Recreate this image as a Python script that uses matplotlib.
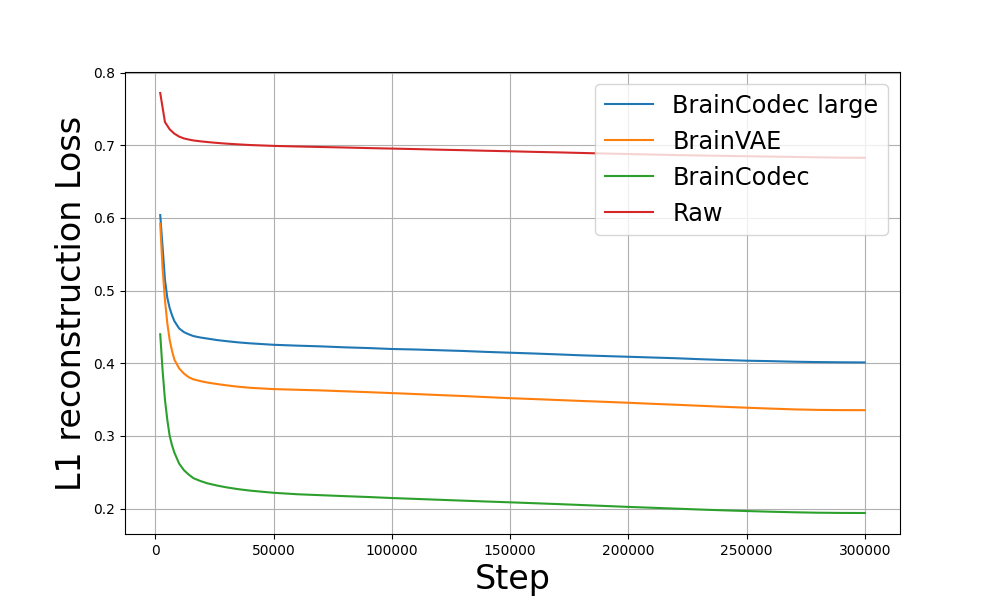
import matplotlib
matplotlib.use("Agg")
import matplotlib.pyplot as plt

steps = [2000, 3000, 4000, 5000, 6000, 7000, 8000, 10000, 12000, 14000, 16000,
         19000, 22000, 26000, 30000, 35000, 40000, 50000, 60000, 70000, 80000,
         90000, 100000, 110000, 120000, 130000, 140000, 150000, 160000, 170000,
         180000, 190000, 200000, 210000, 220000, 230000, 240000, 250000, 260000,
         270000, 280000, 290000, 300000]

braincodec_large = [0.604, 0.560, 0.515, 0.490, 0.476, 0.466, 0.458, 0.448, 0.443,
                    0.440, 0.4375, 0.4355, 0.434, 0.432, 0.4305, 0.4288, 0.4275, 0.4255,
                    0.4243, 0.4233, 0.422, 0.421, 0.4197, 0.419, 0.418, 0.417,
                    0.4157, 0.4146, 0.4135, 0.4123, 0.411, 0.410, 0.409, 0.408,
                    0.407, 0.4057, 0.4046, 0.4036, 0.403, 0.4022, 0.4017, 0.4014,
                    0.4012]

brainvae = [0.592, 0.530, 0.487, 0.455, 0.432, 0.417, 0.405, 0.393, 0.386, 0.381,
            0.378, 0.3755, 0.3735, 0.3715, 0.3697, 0.3678, 0.3663, 0.3645, 0.3636,
            0.3627, 0.3615, 0.3603, 0.359, 0.3577, 0.3563, 0.355, 0.3535, 0.352,
            0.3508, 0.3495, 0.3482, 0.347, 0.3457, 0.3443, 0.343, 0.3416, 0.3402,
            0.3389, 0.3377, 0.3366, 0.3359, 0.3356, 0.3355]

braincodec = [0.440, 0.390, 0.350, 0.322, 0.300, 0.287, 0.277, 0.262, 0.253, 0.247,
              0.242, 0.238, 0.2348, 0.2318, 0.2293, 0.2268, 0.2248, 0.2218, 0.2198,
              0.2185, 0.2172, 0.216, 0.2146, 0.2134, 0.2122, 0.211, 0.2098,
              0.2087, 0.2075, 0.2063, 0.205, 0.2037, 0.2024, 0.2012, 0.200,
              0.1988, 0.1977, 0.1967, 0.1958, 0.1950, 0.1944, 0.1941, 0.194]

raw = [0.772, 0.752, 0.732, 0.727, 0.722, 0.719, 0.716, 0.712, 0.7095, 0.708,
       0.7067, 0.7055, 0.7045, 0.7033, 0.7023, 0.7013, 0.7004, 0.6992, 0.6984,
       0.6977, 0.697, 0.6962, 0.6955, 0.6948, 0.694, 0.6933, 0.6925, 0.6918, 0.691,
       0.6903, 0.6895, 0.6887, 0.688, 0.6873, 0.6866, 0.686, 0.6855, 0.685,
       0.6845, 0.684, 0.6835, 0.683, 0.6828]

series = [("BrainCodec large", braincodec_large),
          ("BrainVAE", brainvae),
          ("BrainCodec", braincodec),
          ("Raw", raw)]

fig, ax = plt.subplots(figsize=(10, 6), dpi=100)
for name, vals in series:
    ax.plot(steps, vals, label=name)
ax.grid(True)
ax.set_xlabel("Step", fontsize=24)
ax.set_ylabel("L1 reconstruction Loss", fontsize=24)
ax.legend(loc="upper right", fontsize=17.3)
fig.savefig("out.png")
